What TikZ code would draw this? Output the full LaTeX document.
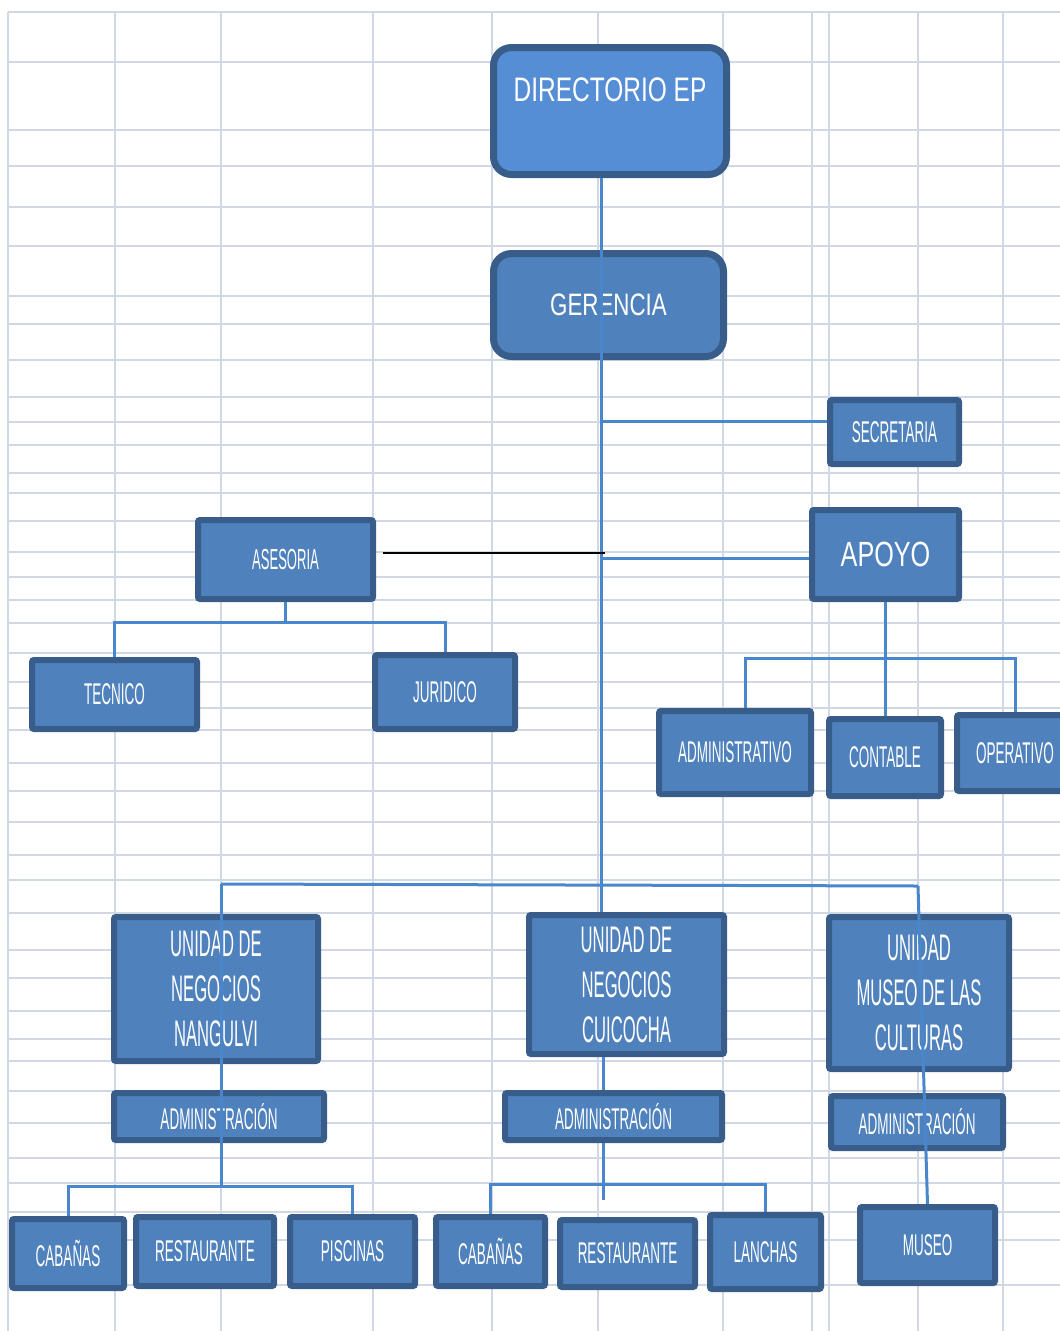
\documentclass[tikz,border=0pt]{standalone}
\usepackage{fontspec}
\setmainfont{Liberation Sans}
\newfontfamily\narrowfont{Liberation Sans}[FakeStretch=0.45]
\newfontfamily\headfont{Liberation Sans}[FakeStretch=0.72]
\usetikzlibrary{positioning}

\definecolor{boxblue}{HTML}{4F81BD}
\definecolor{lightblue}{HTML}{558ED5}
\definecolor{boxedge}{HTML}{385D8A}
\definecolor{linkblue}{HTML}{4A86CC}
\definecolor{gridgray}{HTML}{D0D7E5}

\tikzset{
  orgbox/.style={rectangle, draw=boxedge, fill=boxblue, line width=6pt, rounded corners=2pt,
    text=white, align=center, inner sep=0pt, font={\narrowfont\fontsize{30}{36}\selectfont}},
  unitbox/.style={orgbox, font={\narrowfont\fontsize{37}{45}\selectfont}},
  headbox/.style={orgbox, line width=7pt, rounded corners=18pt, font={\headfont\fontsize{34}{40}\selectfont}},
  link/.style={draw=linkblue, line width=3pt},
}

\begin{document}
\begin{tikzpicture}[x=1pt, y=-1pt]
\useasboundingbox (0,0) rectangle (1060,1331);

% Grid
\foreach \gy in {12,62,130,166,207,246,296,324,360,397,422,445,473,493,521,552,577,600,623,653,682,708,730,763,791,822,855,880,913,950,978,1011,1039,1061,1091,1123,1158,1183,1212,1240,1285}
  \draw[gridgray, line width=2.6pt] (8,\gy) -- (1060,\gy);
\foreach \gx in {8,115,221,373,492,598,723,812,829,918,1003}
  \draw[gridgray, line width=2.6pt] (\gx,12) -- (\gx,1331);

% Nodes
\node (dir) [headbox, fill=lightblue, minimum width=233pt, minimum height=127pt, text depth=42pt] at (610,111) {DIRECTORIO EP};
\node (ger) [headbox, font={\headfont\fontsize{31}{36}\selectfont}, minimum width=230pt, minimum height=103pt] at (608.5,305) {GERENCIA};
\node (sec) [orgbox, minimum width=129pt, minimum height=64pt] at (894.5,432) {SECRETARIA};
\node (ase) [orgbox, font={\narrowfont\fontsize{29}{34}\selectfont}, minimum width=175pt, minimum height=79pt] at (285.5,559.5) {ASESORIA};
\node (apo) [orgbox, font={\headfont\fontsize{35}{40}\selectfont}, minimum width=147pt, minimum height=89pt] at (885.5,554.5) {APOYO};
\node (tec) [orgbox, minimum width=165pt, minimum height=69pt] at (114.5,694.5) {TECNICO};
\node (jur) [orgbox, minimum width=140pt, minimum height=74pt] at (445,692) {JURIDICO};
\node (adm) [orgbox, minimum width=152pt, minimum height=83pt] at (735,752.5) {ADMINISTRATIVO};
\node (con) [orgbox, minimum width=112pt, minimum height=77pt] at (885,757.5) {CONTABLE};
\node (ope) [orgbox, minimum width=116pt, minimum height=76pt] at (1015,753) {OPERATIVO};

\node (nan) [unitbox, minimum width=204pt, minimum height=144pt] at (216,989) {UNIDAD DE\\NEGOCIOS\\NANGULVI};
\node (cui) [unitbox, minimum width=195pt, minimum height=139pt] at (626.5,984.5) {UNIDAD DE\\NEGOCIOS\\CUICOCHA};
\node (mcu) [unitbox, minimum width=180pt, minimum height=152pt] at (919,993) {UNIDAD\\MUSEO DE LAS\\CULTURAS};

\node (admnan) [orgbox, minimum width=210pt, minimum height=47pt] at (219,1116.5) {ADMINISTRACIÓN};
\node (admcui) [orgbox, minimum width=217pt, minimum height=47pt] at (613.5,1116.5) {ADMINISTRACIÓN};
\node (admmcu) [orgbox, minimum width=172pt, minimum height=52pt] at (917,1122) {ADMINISTRACIÓN};

\node (cabnan) [orgbox, minimum width=112pt, minimum height=69pt] at (68,1253.5) {CABAÑAS};
\node (resnan) [orgbox, minimum width=138pt, minimum height=69pt] at (205,1251.5) {RESTAURANTE};
\node (pis) [orgbox, minimum width=125pt, minimum height=69pt] at (352.5,1251.5) {PISCINAS};
\node (cabcui) [orgbox, minimum width=109pt, minimum height=69pt] at (490.5,1251.5) {CABAÑAS};
\node (rescui) [orgbox, minimum width=135pt, minimum height=67pt] at (627.5,1253.5) {RESTAURANTE};
\node (lan) [orgbox, minimum width=111pt, minimum height=74pt] at (765.5,1252) {LANCHAS};
\node (mus) [orgbox, minimum width=135pt, minimum height=76pt] at (927.5,1245) {MUSEO};

% Junctions
\coordinate (trunk) at (601,884);
\coordinate (jsec) at (601,421);
\coordinate (japo) at (601,558);
\coordinate (jase) at (605,553);
\coordinate (base) at (283,622);
\coordinate (bapo) at (886,658);
\coordinate (bl) at (221,884);
\coordinate (br) at (918,886);
\coordinate (bnan) at (221,1186);
\coordinate (bcui) at (603,1184);
\coordinate (stub) at (603,1200);

% Edges
\draw[link] (dir.south -| trunk) -- (trunk);
\draw[link] (jsec) -- (jsec -| sec.west);
\draw[link] (japo) -- (japo -| apo.west);
\draw[black, line width=1.5pt] ([xshift=7pt]ase.east |- jase) -- (jase);
\draw[link] (ase.south) -- (ase.south |- base);
\draw[link] (tec.north) |- (jur.north |- base) -- (jur.north);
\draw[link] (apo.south) -- (apo.south |- con.north);
\draw[link] ([xshift=10pt]adm.north) |- (ope.north |- bapo) -- (ope.north);
\draw[link] (bl) -- (br);
\draw[link] (bl) -- (bnan);
\draw[link] (cabnan.north) |- (pis.north |- bnan) -- (pis.north);
\draw[link] (trunk) -- (trunk |- cui.north);
\draw[link] (cui.south -| stub) -- (admcui.north -| stub);
\draw[link] (admcui.south -| stub) -- (stub);
\draw[link] (cabcui.north) |- (lan.north |- bcui) -- (lan.north);
\draw[link] (br) -- (mus.north);
\end{tikzpicture}
\end{document}
